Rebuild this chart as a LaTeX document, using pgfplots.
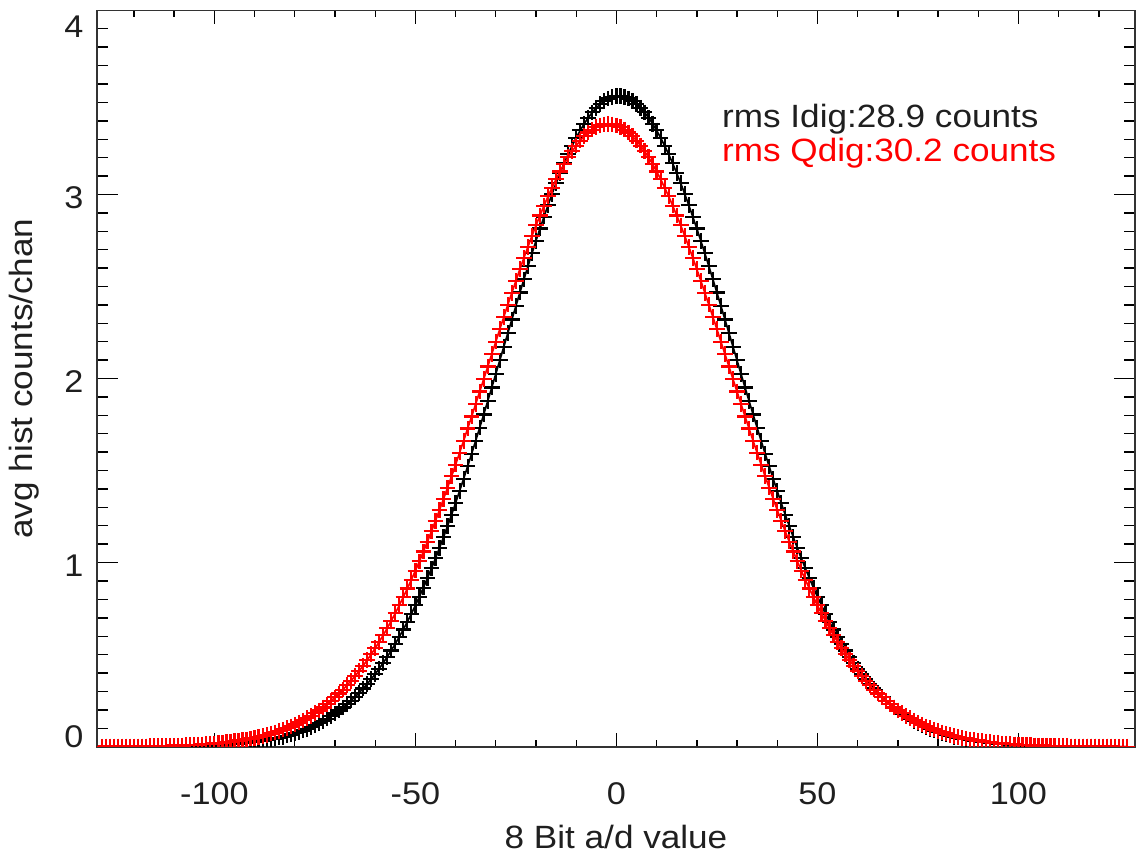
\documentclass[border=0pt]{standalone}
\usepackage{fontspec}
\setmainfont{Liberation Sans}[FakeStretch=1.09]
\usepackage{pgfplots}
\usepackage{pgfplotstable}
\pgfplotsset{compat=1.18}
\newcommand{\ticklabelfont}{\fontsize{11.3}{13}\selectfont}
\newcommand{\labelfont}{\fontsize{11.6}{14}\selectfont}
\pgfplotstableread{
x b r
-128 0 0
-127 0 0.001
-126 0 0.001
-125 0 0.001
-124 0 0.001
-123 0 0.001
-122 0 0.001
-121 0 0.001
-120 0 0.002
-119 0 0.002
-118 0.001 0.002
-117 0.001 0.002
-116 0.001 0.003
-115 0.001 0.003
-114 0.001 0.003
-113 0.002 0.004
-112 0.002 0.004
-111 0.002 0.005
-110 0.002 0.006
-109 0.003 0.006
-108 0.003 0.007
-107 0.003 0.008
-106 0.004 0.009
-105 0.005 0.010
-104 0.005 0.011
-103 0.006 0.013
-102 0.007 0.014
-101 0.007 0.016
-100 0.008 0.017
-99 0.009 0.019
-98 0.011 0.022
-97 0.012 0.024
-96 0.013 0.027
-95 0.015 0.030
-94 0.017 0.033
-93 0.019 0.036
-92 0.021 0.040
-91 0.024 0.044
-90 0.026 0.048
-89 0.029 0.053
-88 0.033 0.059
-87 0.036 0.064
-86 0.040 0.071
-85 0.044 0.077
-84 0.049 0.085
-83 0.054 0.093
-82 0.060 0.101
-81 0.066 0.110
-80 0.073 0.120
-79 0.080 0.131
-78 0.088 0.143
-77 0.097 0.155
-76 0.106 0.168
-75 0.116 0.182
-74 0.127 0.197
-73 0.139 0.213
-72 0.152 0.230
-71 0.166 0.249
-70 0.180 0.268
-69 0.196 0.289
-68 0.213 0.310
-67 0.231 0.334
-66 0.250 0.358
-65 0.271 0.384
-64 0.293 0.411
-63 0.316 0.440
-62 0.341 0.470
-61 0.367 0.502
-60 0.395 0.535
-59 0.424 0.570
-58 0.456 0.606
-57 0.488 0.644
-56 0.523 0.684
-55 0.559 0.725
-54 0.597 0.768
-53 0.637 0.813
-52 0.679 0.859
-51 0.722 0.907
-50 0.768 0.956
-49 0.815 1.007
-48 0.864 1.060
-47 0.916 1.114
-46 0.969 1.170
-45 1.023 1.227
-44 1.080 1.286
-43 1.138 1.346
-42 1.199 1.407
-41 1.260 1.469
-40 1.324 1.532
-39 1.389 1.597
-38 1.455 1.662
-37 1.523 1.728
-36 1.592 1.794
-35 1.662 1.862
-34 1.733 1.929
-33 1.805 1.997
-32 1.878 2.065
-31 1.951 2.133
-30 2.025 2.200
-29 2.099 2.268
-28 2.173 2.335
-27 2.247 2.401
-26 2.321 2.466
-25 2.394 2.531
-24 2.467 2.594
-23 2.539 2.656
-22 2.610 2.716
-21 2.680 2.775
-20 2.748 2.832
-19 2.815 2.886
-18 2.879 2.939
-17 2.942 2.990
-16 3.003 3.037
-15 3.061 3.083
-14 3.116 3.125
-13 3.169 3.165
-12 3.218 3.202
-11 3.265 3.235
-10 3.308 3.265
-9 3.348 3.292
-8 3.384 3.316
-7 3.417 3.336
-6 3.446 3.352
-5 3.471 3.365
-4 3.491 3.375
-3 3.508 3.380
-2 3.521 3.382
-1 3.529 3.380
0 3.534 3.375
1 3.534 3.365
2 3.529 3.352
3 3.521 3.336
4 3.508 3.316
5 3.491 3.292
6 3.471 3.265
7 3.446 3.235
8 3.417 3.202
9 3.384 3.165
10 3.348 3.125
11 3.308 3.083
12 3.265 3.037
13 3.218 2.990
14 3.169 2.939
15 3.116 2.886
16 3.061 2.832
17 3.003 2.775
18 2.942 2.716
19 2.879 2.656
20 2.815 2.594
21 2.748 2.531
22 2.680 2.466
23 2.610 2.401
24 2.539 2.335
25 2.467 2.268
26 2.394 2.200
27 2.321 2.133
28 2.247 2.065
29 2.173 1.997
30 2.099 1.929
31 2.025 1.862
32 1.951 1.794
33 1.878 1.728
34 1.805 1.662
35 1.733 1.597
36 1.662 1.532
37 1.592 1.469
38 1.523 1.407
39 1.455 1.346
40 1.389 1.286
41 1.324 1.227
42 1.260 1.170
43 1.199 1.114
44 1.138 1.060
45 1.080 1.007
46 1.023 0.956
47 0.969 0.907
48 0.916 0.859
49 0.864 0.813
50 0.815 0.768
51 0.768 0.725
52 0.722 0.684
53 0.679 0.644
54 0.637 0.606
55 0.597 0.570
56 0.559 0.535
57 0.523 0.502
58 0.488 0.470
59 0.456 0.440
60 0.424 0.411
61 0.395 0.384
62 0.367 0.358
63 0.341 0.334
64 0.316 0.310
65 0.293 0.289
66 0.271 0.268
67 0.250 0.249
68 0.231 0.230
69 0.213 0.213
70 0.196 0.197
71 0.180 0.182
72 0.166 0.168
73 0.152 0.155
74 0.139 0.143
75 0.127 0.131
76 0.116 0.120
77 0.106 0.110
78 0.097 0.101
79 0.088 0.093
80 0.080 0.085
81 0.073 0.077
82 0.066 0.071
83 0.060 0.064
84 0.054 0.059
85 0.049 0.053
86 0.044 0.048
87 0.040 0.044
88 0.036 0.040
89 0.033 0.036
90 0.029 0.033
91 0.026 0.030
92 0.024 0.027
93 0.021 0.024
94 0.019 0.022
95 0.017 0.019
96 0.015 0.017
97 0.013 0.016
98 0.012 0.014
99 0.011 0.013
100 0.009 0.011
101 0.008 0.010
102 0.007 0.009
103 0.007 0.008
104 0.006 0.007
105 0.005 0.006
106 0.005 0.006
107 0.004 0.005
108 0.003 0.004
109 0.003 0.004
110 0.003 0.003
111 0.002 0.003
112 0.002 0.003
113 0.002 0.002
114 0.002 0.002
115 0.001 0.002
116 0.001 0.002
117 0.001 0.001
118 0.001 0.001
119 0.001 0.001
120 0 0.001
121 0 0.001
122 0 0.001
123 0 0.001
124 0 0
125 0 0
126 0 0
127 0 0
}\hist
\begin{document}
\begin{tikzpicture}
\begin{axis}[
  scale only axis,
  width=373.68pt, height=265.07pt,
  xmin=-129.2, xmax=129, ymin=0, ymax=4,
  xtick={-100,-50,0,50,100},
  xticklabels={-100,-50,0,50,100},
  minor xtick={-120,-110,...,120},
  ytick={0,1,2,3,4},
  yticklabels={,1,2,3,},
  minor ytick={0.1,0.2,...,3.95},
  tick align=inside,
  major tick length=7.6pt,
  minor tick length=3.85pt,
  xtick style={/pgfplots/major tick length=5pt,/pgfplots/minor tick length=2.5pt},
  tick style={black, line width=0.5pt},
  axis line style={black!80, line width=0.6pt},
  xticklabel style={font=\ticklabelfont, text=black!88, inner sep=0pt, anchor=north, yshift=-12.7pt},
  yticklabel style={font=\ticklabelfont, text=black!88, inner sep=0pt, anchor=east, xshift=-4.7pt, yshift=-1pt},
  xlabel={8 Bit a/d value},
  ylabel={avg hist counts/chan},
  xlabel style={at={(axis description cs:0.5,-0.138)}, anchor=base, font=\labelfont, text=black!88, inner sep=0pt},
  ylabel style={at={(axis description cs:-0.0626,0.5)}, anchor=base, font=\labelfont, text=black!88, inner sep=0pt},
  clip marker paths=true,
]
\addplot[black, line width=0.6pt, mark=+, mark size=2.8pt, mark options={line width=0.8pt}] table[x=x, y=b] {\hist};
\addplot[red, line width=0.6pt, mark=+, mark size=2.8pt, mark options={line width=0.8pt}] table[x=x, y=r] {\hist};
\node[anchor=base west, inner sep=0pt, font=\labelfont, text=black!88] at (axis description cs:0.6018,0.8407) {rms Idig:28.9 counts};
\node[anchor=base west, inner sep=0pt, font=\labelfont, text=red] at (axis description cs:0.6018,0.7945) {rms Qdig:30.2 counts};
\end{axis}
\node[anchor=east, inner sep=0pt, font=\ticklabelfont, text=black!88, xshift=-4.7pt, yshift=-5.9pt] at (current axis.north west) {4};
\node[anchor=east, inner sep=0pt, font=\ticklabelfont, text=black!88, xshift=-4.7pt, yshift=3.5pt] at (current axis.south west) {0};
\pgfresetboundingbox
\path[use as bounding box] ([shift={(-34.92pt,-40.43pt)}]current axis.south west) rectangle ([shift={(1.08pt,3.74pt)}]current axis.north east);
\end{tikzpicture}
\end{document}
